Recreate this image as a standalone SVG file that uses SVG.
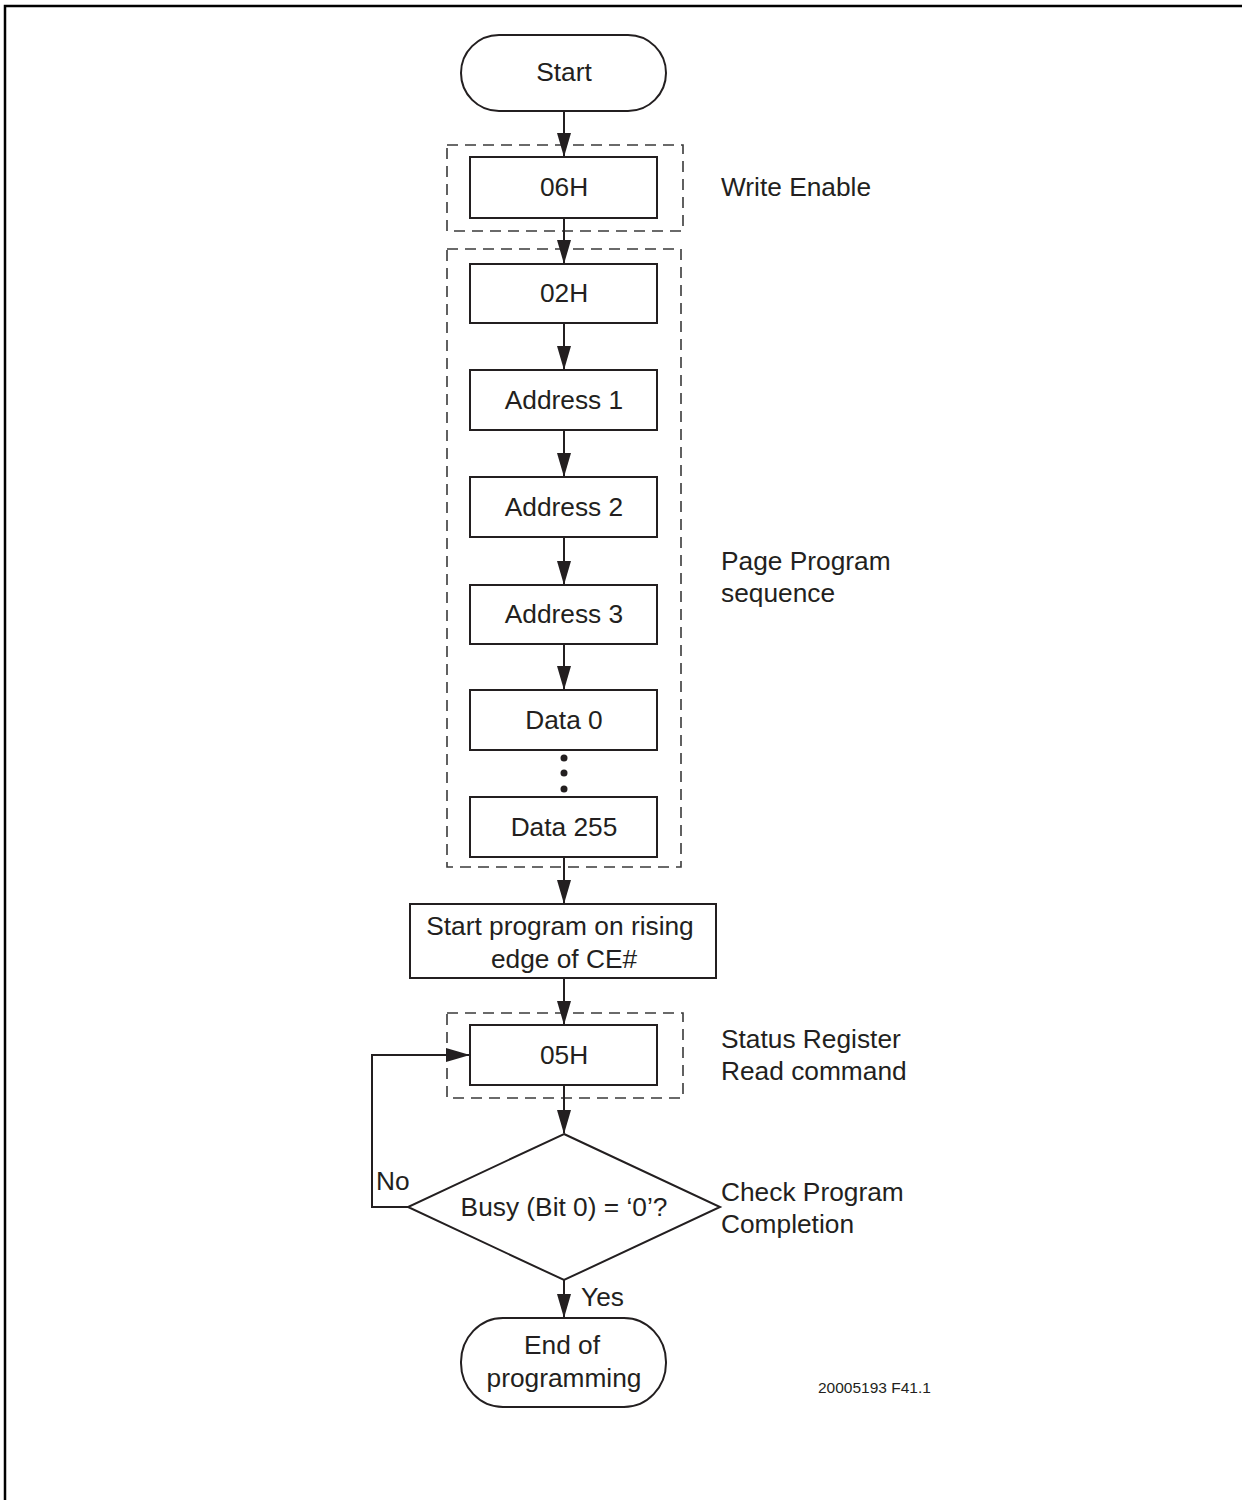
<svg xmlns="http://www.w3.org/2000/svg" width="1242" height="1500" viewBox="0 0 1242 1500">
<style>
.box{fill:#fff;stroke:#231f20;stroke-width:2}
.dash{fill:none;stroke:#3a3a3a;stroke-width:1.6;stroke-dasharray:11 7}
.ln{fill:none;stroke:#231f20;stroke-width:2}
text{font-family:"Liberation Sans",Arial,sans-serif;font-size:26.3px;fill:#231f20}
.c{text-anchor:middle}
</style>
<defs>
<marker id="ah" markerWidth="24" markerHeight="14" refX="23" refY="7" orient="auto" markerUnits="userSpaceOnUse" viewBox="0 0 24 14">
<path d="M0,0 L24,7 L0,14 Z" fill="#231f20"/>
</marker>
</defs>
<rect x="0" y="0" width="1242" height="1500" fill="#fff"/>
<path d="M5,1500 V6 H1242" fill="none" stroke="#000" stroke-width="2.5"/>
<g id="groups">
<rect class="dash" x="447" y="145" width="236" height="86"/>
<rect class="dash" x="447" y="249" width="234" height="618"/>
<rect class="dash" x="447" y="1013" width="236" height="85"/>
</g>
<g id="connectors">
<line class="ln" x1="564" y1="111" x2="564" y2="156" marker-end="url(#ah)"/>
<line class="ln" x1="564" y1="218" x2="564" y2="263" marker-end="url(#ah)"/>
<line class="ln" x1="564" y1="323" x2="564" y2="369" marker-end="url(#ah)"/>
<line class="ln" x1="564" y1="430" x2="564" y2="476" marker-end="url(#ah)"/>
<line class="ln" x1="564" y1="537" x2="564" y2="584" marker-end="url(#ah)"/>
<line class="ln" x1="564" y1="644" x2="564" y2="689" marker-end="url(#ah)"/>
<line class="ln" x1="564" y1="857" x2="564" y2="903" marker-end="url(#ah)"/>
<line class="ln" x1="564" y1="978" x2="564" y2="1024" marker-end="url(#ah)"/>
<line class="ln" x1="564" y1="1085" x2="564" y2="1133" marker-end="url(#ah)"/>
<line class="ln" x1="564" y1="1280" x2="564" y2="1317" marker-end="url(#ah)"/>
<polyline class="ln" points="408,1207 372,1207 372,1055 469,1055" marker-end="url(#ah)"/>
<circle cx="564" cy="758" r="3.5" fill="#231f20"/>
<circle cx="564" cy="773" r="3.5" fill="#231f20"/>
<circle cx="564" cy="789" r="3.5" fill="#231f20"/>
<text x="376" y="1190">No</text>
<text x="581" y="1306">Yes</text>
</g>
<g id="start"><rect class="box" x="461" y="35" width="205" height="76" rx="38"/><text class="c" x="564" y="81">Start</text></g>
<g id="n06H"><rect class="box" x="470" y="157" width="187" height="61"/><text class="c" x="564" y="196">06H</text></g>
<g id="n02H"><rect class="box" x="470" y="264" width="187" height="59"/><text class="c" x="564" y="302">02H</text></g>
<g id="addr1"><rect class="box" x="470" y="370" width="187" height="60"/><text class="c" x="564" y="409">Address 1</text></g>
<g id="addr2"><rect class="box" x="470" y="477" width="187" height="60"/><text class="c" x="564" y="516">Address 2</text></g>
<g id="addr3"><rect class="box" x="470" y="585" width="187" height="59"/><text class="c" x="564" y="623">Address 3</text></g>
<g id="data0"><rect class="box" x="470" y="690" width="187" height="60"/><text class="c" x="564" y="729">Data 0</text></g>
<g id="data255"><rect class="box" x="470" y="797" width="187" height="60"/><text class="c" x="564" y="836">Data 255</text></g>
<g id="startprog"><rect class="box" x="410" y="904" width="306" height="74"/><text class="c" x="560" y="935">Start program on rising</text><text class="c" x="564" y="968">edge of CE#</text></g>
<g id="n05H"><rect class="box" x="470" y="1025" width="187" height="60"/><text class="c" x="564" y="1064">05H</text></g>
<g id="busy"><polygon class="box" points="564,1134 720,1207 564,1280 408,1207"/><text class="c" x="564" y="1216">Busy (Bit 0) = ‘0’?</text></g>
<g id="end"><rect class="box" x="461" y="1318" width="205" height="89" rx="42" ry="44"/><text class="c" x="562" y="1354">End of</text><text class="c" x="564" y="1387">programming</text></g>
<g id="labels">
<text x="721" y="196">Write Enable</text>
<text x="721" y="570">Page Program</text>
<text x="721" y="602">sequence</text>
<text x="721" y="1048">Status Register</text>
<text x="721" y="1080">Read command</text>
<text x="721" y="1201">Check Program</text>
<text x="721" y="1233">Completion</text>
<text x="818" y="1393" style="font-size:15.5px">20005193 F41.1</text>
</g>
</svg>
